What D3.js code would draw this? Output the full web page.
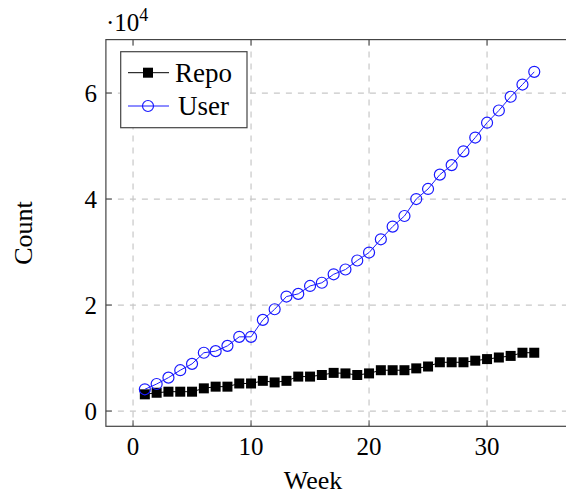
<!DOCTYPE html>
<html><head><meta charset="utf-8">
<script src="https://cdn.jsdelivr.net/npm/d3@7"></script>
<style>body{margin:0;background:#fff}svg{display:block}</style>
</head><body>
<script>
const weeks = d3.range(1, 35);
const repo = [3150,3450,3650,3650,3650,4280,4600,4600,5200,5200,5700,5400,5700,6500,6500,6800,7200,7100,6800,7100,7700,7700,7700,8050,8400,9200,9200,9200,9500,9800,10100,10400,11000,11000];
const user = [4100,5100,6300,7700,8900,11000,11300,12300,14000,14000,17200,19200,21600,22100,23600,24200,25800,26700,28400,29900,32400,34800,36800,40000,41900,44600,46400,49000,51600,54400,56700,59300,61600,64000];
const xTicks = [0,10,20,30];
const yTicks = [0,20000,40000,60000];
const seriesNames = ["Repo","User"];

const FONT = "'Liberation Serif', 'Times New Roman', 'DejaVu Serif', serif";
const W=566,H=498;
const svg=d3.select("body").append("svg").attr("width",W).attr("height",H).attr("font-family",FONT);
const x=d3.scaleLinear().domain([-2.3,37.3]).range([105.9,573.2]);
const y=d3.scaleLinear().domain([-2880,70080]).range([426.3,39.6]);
const L=105.9,R=573.2,T=39.6,B=426.3;

svg.append("defs").append("clipPath").attr("id","c").append("rect").attr("x",L).attr("y",T).attr("width",R-L).attr("height",B-T);

const g=svg.append("g");
g.selectAll(".gx").data(xTicks).join("line").attr("x1",d=>x(d)).attr("x2",d=>x(d)).attr("y1",T).attr("y2",B)
 .attr("stroke","#c8c8c8").attr("stroke-width",1.2).attr("stroke-dasharray","6,6");
g.selectAll(".gy").data(yTicks).join("line").attr("y1",d=>y(d)).attr("y2",d=>y(d)).attr("x1",L).attr("x2",R)
 .attr("stroke","#c8c8c8").attr("stroke-width",1.2).attr("stroke-dasharray","6,6");

const tk=6;
xTicks.forEach(d=>{
  g.append("line").attr("x1",x(d)).attr("x2",x(d)).attr("y1",B).attr("y2",B-tk).attr("stroke","#444");
  g.append("line").attr("x1",x(d)).attr("x2",x(d)).attr("y1",T).attr("y2",T+tk).attr("stroke","#444");
});
yTicks.forEach(d=>{
  g.append("line").attr("y1",y(d)).attr("y2",y(d)).attr("x1",L).attr("x2",L+tk).attr("stroke","#444");
  g.append("line").attr("y1",y(d)).attr("y2",y(d)).attr("x1",R).attr("x2",R-tk).attr("stroke","#444");
});

const pl=svg.append("g").attr("clip-path","url(#c)");
const line=d3.line().x((d,i)=>x(weeks[i])).y(d=>y(d));
pl.append("path").datum(repo).attr("d",line).attr("fill","none").attr("stroke","#000").attr("stroke-width",1);
pl.selectAll(".sq").data(repo).join("rect").attr("x",(d,i)=>x(weeks[i])-5).attr("y",d=>y(d)-5).attr("width",10).attr("height",10).attr("fill","#000");
pl.append("path").datum(user).attr("d",line).attr("fill","none").attr("stroke","#1a1aff").attr("stroke-width",1);
pl.selectAll(".ci").data(user).join("circle").attr("cx",(d,i)=>x(weeks[i])).attr("cy",d=>y(d)).attr("r",5.5).attr("fill","none").attr("stroke","#1a1aff").attr("stroke-width",1.2);

svg.append("rect").attr("x",L).attr("y",T).attr("width",R-L).attr("height",B-T).attr("fill","none").attr("stroke","#444").attr("stroke-width",1.2);

svg.selectAll(".xl").data(xTicks).join("text").attr("x",d=>x(d)).attr("y",455).attr("text-anchor","middle").attr("font-size",25).text(d=>d);
svg.selectAll(".yl").data(yTicks).join("text").attr("x",97).attr("y",d=>y(d)+8.5).attr("text-anchor","end").attr("font-size",25).text(d=>d/10000);
const sc=svg.append("text").attr("x",106).attr("y",31).attr("font-size",25);
sc.append("tspan").text("·10");
sc.append("tspan").attr("font-size",18).attr("dy",-10).text("4");

svg.append("text").attr("x",x(15)+3).attr("y",489).attr("text-anchor","middle").attr("font-size",26).text("Week");
svg.append("text").attr("transform","translate(32,233) rotate(-90)").attr("text-anchor","middle").attr("font-size",26).text("Count");

const lg=svg.append("g");
lg.append("rect").attr("x",120.7).attr("y",51.7).attr("width",126.3).attr("height",76).attr("fill","#fff").attr("stroke","#444").attr("stroke-width",1.2);
const rows=[72.7,106];
lg.append("line").attr("x1",128).attr("x2",169).attr("y1",rows[0]).attr("y2",rows[0]).attr("stroke","#000");
lg.append("rect").attr("x",143).attr("y",rows[0]-5).attr("width",10).attr("height",10).attr("fill","#000");
lg.append("line").attr("x1",128).attr("x2",169).attr("y1",rows[1]).attr("y2",rows[1]).attr("stroke","#1a1aff");
lg.append("circle").attr("cx",148).attr("cy",rows[1]).attr("r",5.5).attr("fill","none").attr("stroke","#1a1aff").attr("stroke-width",1.2);
lg.selectAll(".lt").data(seriesNames).join("text").attr("x",(d,i)=>i==0?175:178).attr("y",(d,i)=>rows[i]+9).attr("font-size",27).text(d=>d);
</script>
</body></html>
